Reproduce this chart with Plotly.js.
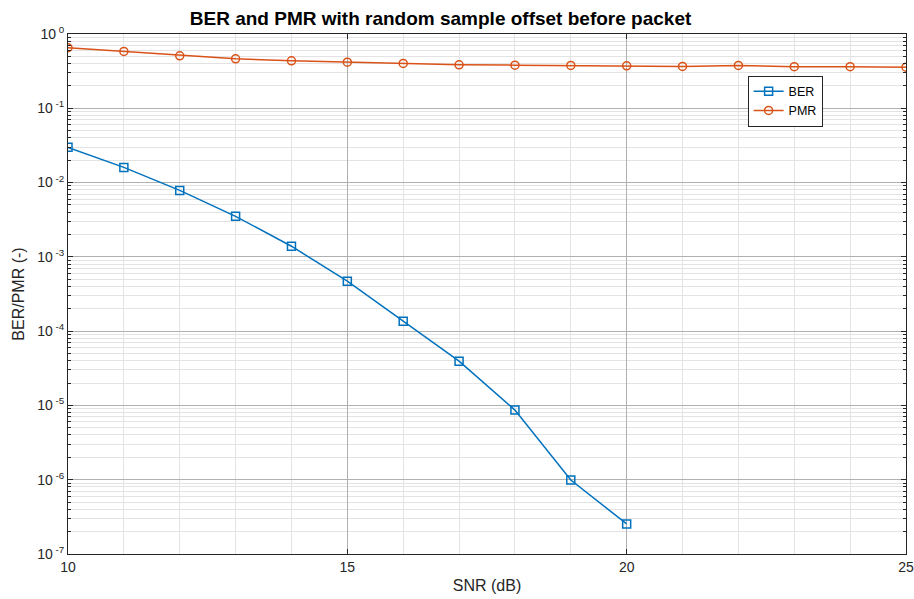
<!DOCTYPE html>
<html>
<head>
<meta charset="utf-8">
<script src="https://cdn.plot.ly/plotly-3.0.1.min.js"></script>
<style>html,body{margin:0;padding:0;background:#fff}#chart{width:914px;height:599px}</style>
</head>
<body>
<div id="chart"></div>
<script>
const snrBER = [10, 11, 12, 13, 14, 15, 16, 17, 18, 19, 20];
const ber = [0.0298, 0.016, 0.00785, 0.00351, 0.00139, 0.00047, 1.36e-4, 3.94e-5, 8.65e-6, 9.9e-7, 2.54e-7];
const snrPMR = [10, 11, 12, 13, 14, 15, 16, 17, 18, 19, 20, 21, 22, 23, 24, 25];
const pmr = [0.653, 0.582, 0.509, 0.463, 0.436, 0.418, 0.401, 0.385, 0.381, 0.377, 0.373, 0.366, 0.377, 0.363, 0.363, 0.358];
const yTickVals = [1e-7, 1e-6, 1e-5, 1e-4, 1e-3, 1e-2, 1e-1, 1];
const yTickText = ['10<sup> -7</sup>', '10<sup> -6</sup>', '10<sup> -5</sup>', '10<sup> -4</sup>', '10<sup> -3</sup>', '10<sup> -2</sup>', '10<sup> -1</sup>', '10<sup> 0</sup>'];
const xTickVals = [10, 15, 20, 25];

const font = {family: 'Liberation Sans, Arial, sans-serif', size: 14, color: '#262626'};
const traces = [
  {x: snrBER, y: ber, name: 'BER', type: 'scatter', mode: 'lines+markers',
   line: {color: '#0072BD', width: 1.5},
   marker: {symbol: 'square-open', size: 8, color: '#0072BD', line: {width: 1.5}}},
  {x: snrPMR, y: pmr, name: 'PMR', type: 'scatter', mode: 'lines+markers',
   line: {color: '#D95319', width: 1.5},
   marker: {symbol: 'circle-open', size: 8, color: '#D95319', line: {width: 1.5}}}
];
const layout = {
  width: 914, height: 599,
  margin: {l: 68, r: 8, t: 34, b: 45},
  paper_bgcolor: '#fff', plot_bgcolor: '#fff',
  font: font,
  showlegend: true,
  title: {text: '<b>BER and PMR with random sample offset before packet</b>',
    font: {family: 'Liberation Sans, Arial, sans-serif', size: 19, color: '#000'},
    x: 0.482, xref: 'container', xanchor: 'center', y: 0.97, yref: 'container', yanchor: 'middle'},
  xaxis: {
    range: [10, 25], tickvals: xTickVals, ticktext: xTickVals.map(String),
    showline: true, linecolor: '#262626', linewidth: 1, mirror: 'ticks',
    ticks: 'inside', ticklen: 5, tickcolor: '#262626',
    showgrid: true, gridcolor: '#b0b0b0', gridwidth: 1, zeroline: false,
    minor: {dtick: 1, showgrid: true, gridcolor: '#e3e3e3', gridwidth: 1, ticks: ''},
    title: {text: 'SNR (dB)', font: {size: 16, color: '#262626'}, standoff: 6},
    tickfont: {size: 14}
  },
  yaxis: {
    type: 'log', range: [-7, 0], tickvals: yTickVals, ticktext: yTickText,
    showline: true, linecolor: '#262626', linewidth: 1, mirror: 'ticks',
    ticks: 'inside', ticklen: 5, tickcolor: '#262626',
    showgrid: true, gridcolor: '#b0b0b0', gridwidth: 1, zeroline: false,
    minor: {dtick: 'D1', showgrid: true, gridcolor: '#e3e3e3', gridwidth: 1, ticks: 'inside', ticklen: 3, tickcolor: '#262626'},
    title: {text: 'BER/PMR (-)', font: {size: 16, color: '#262626'}, standoff: 8},
    tickfont: {size: 14}
  },
  legend: {x: 0.811, y: 0.92, xanchor: 'left', yanchor: 'top',
    bgcolor: '#fff', bordercolor: '#262626', borderwidth: 1,
    font: {size: 12.5, color: '#000'}, tracegroupgap: 0, itemwidth: 30}
};
Plotly.newPlot('chart', traces, layout, {staticPlot: true, displayModeBar: false});
</script>
</body>
</html>
